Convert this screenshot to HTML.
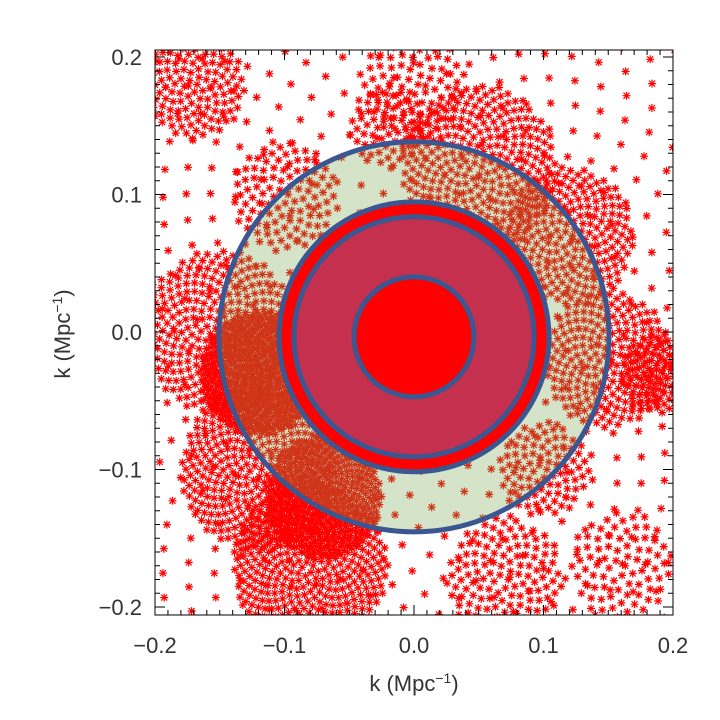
<!DOCTYPE html>
<html><head><meta charset="utf-8"><style>
html,body{margin:0;padding:0;background:#fff}
svg{display:block;font-family:"Liberation Sans",sans-serif}
</style></head><body>
<svg id="chart" width="720" height="720" viewBox="0 0 720 720">
<defs>
<g id="ast"><path d="M-4,0H4M0,-4V4M-3,-3L3,3M-3,3L3,-3" stroke-width="1.2" fill="none"/></g>
<clipPath id="plotclip"><rect x="155" y="50" width="518" height="565"/></clipPath>
</defs>
<g id="plot" clip-path="url(#plotclip)"></g>
<g id="axes"></g>
</svg>
<script>
const xTicks=[-0.2,-0.1,0.0,0.1,0.2];
const yTicks=[-0.2,-0.1,0.0,0.1,0.2];
const xTickLabels=["\u22120.2","\u22120.1","0.0","0.1","0.2"];
const yTickLabels=["\u22120.2","\u22120.1","0.0","0.1","0.2"];
// clusters of k-space samples: [kx, ky, spread, count]
const clusterX=[0.0,-0.15,-0.12,-0.08,-0.17,0.05,0.12,0.15,0.19,-0.12,-0.07,0.07,0.16,-0.10,0.0,-0.02,0.10];
const clusterY=[0.0,0.0,-0.10,-0.17,0.18,0.12,0.07,-0.02,-0.03,-0.03,-0.12,-0.18,-0.17,0.10,0.18,0.15,-0.10];
const clusterSpread=[0.29,0.06,0.06,0.06,0.04,0.06,0.05,0.05,0.03,0.045,0.045,0.045,0.04,0.04,0.04,0.03,0.035];
const clusterCount=[750,300,350,380,130,300,220,220,100,500,380,130,80,100,80,60,90];
// rings (k radii) and centre
const ringCenter=[0.0,-0.0035];
const ringRadii=[0.1506,0.1042,0.0927,0.0463];

const xs=k=>414+k*1295, ys=k=>332-k*1375, rs=k=>k*1295;
const NS="http://www.w3.org/2000/svg";
function mk(t,a,p){const e=document.createElementNS(NS,t);for(const k in a)e.setAttribute(k,a[k]);p.appendChild(e);return e;}
const plot=document.getElementById('plot'), axes=document.getElementById('axes');
const cx=xs(ringCenter[0]), cy=ys(ringCenter[1]);
const R=ringRadii.map(rs);

const ann=mk('circle',{cx:cx,cy:cy,r:R[0],fill:'#d5e4c8'},plot);



const pts=mk('g',{},plot);


for(let c=0;c<clusterX.length;c++){
  const n=clusterCount[c];
  for(let i=0;i<n;i++){
    const rr=clusterSpread[c]*Math.sqrt((i+0.5)/n), a=i*2.39996;
    const px=xs(clusterX[c]+rr*Math.cos(a)), py=ys(clusterY[c]+rr*Math.sin(a));
    const d=Math.hypot(px-cx,py-cy);
    const col=d<R[0]?'#d03418':'#ff0000';
    const u=mk('use',{href:'#ast',x:px.toFixed(1),y:py.toFixed(1),stroke:col},pts);
    
    
  }
}
const discs=[[R[1],'#ff0000','red-ring-fill'],[R[2],'#c4304e','middle-disc-fill'],[R[3],'#ff0000','inner-disc-fill']];
for(const [r,f,n] of discs){
  const e=mk('circle',{cx:cx,cy:cy,r:r,fill:f},plot);
  
  
}
ringRadii.forEach((k,i)=>{
  const e=mk('circle',{cx:cx,cy:cy,r:rs(k),fill:'none',stroke:'#3a5791','stroke-width':5},plot);
  
  
});

const box=mk('rect',{x:155,y:50,width:518,height:565,fill:'none',stroke:'#000','stroke-width':1},axes);


let tp='';
for(let m=-20;m<=20;m++){
  const k=m/100, L=(m%10===0)?10:5;
  const x=xs(k); tp+=`M${x},615v${-L}M${x},50v${L}`;
  const y=ys(k); if(y>=50&&y<=615) tp+=`M155,${y}h${L}M673,${y}h${-L}`;
}
const ticks=mk('path',{d:tp,stroke:'#000','stroke-width':1,fill:'none'},axes);


xTicks.forEach((k,i)=>{
  const t=mk('text',{x:xs(k),y:653,'text-anchor':'middle','font-size':22,fill:'#333'},axes);
  t.textContent=xTickLabels[i];
  
  
});
yTicks.forEach((k,i)=>{
  const t=mk('text',{x:142,y:ys(k)+8,'text-anchor':'end','font-size':22,fill:'#333'},axes);
  t.textContent=yTickLabels[i];
  
  
});
const xt=mk('text',{x:414,y:691,'text-anchor':'middle','font-size':22,fill:'#333'},axes);
xt.innerHTML='k (Mpc<tspan dy="-8" font-size="14">\u22121</tspan><tspan dy="8">)</tspan>';


const yt=mk('text',{x:0,y:0,'text-anchor':'middle','font-size':22,fill:'#333',transform:'translate(70,334) rotate(-90)'},axes);
yt.innerHTML='k (Mpc<tspan dy="-8" font-size="14">\u22121</tspan><tspan dy="8">)</tspan>';


</script>
</body></html>
